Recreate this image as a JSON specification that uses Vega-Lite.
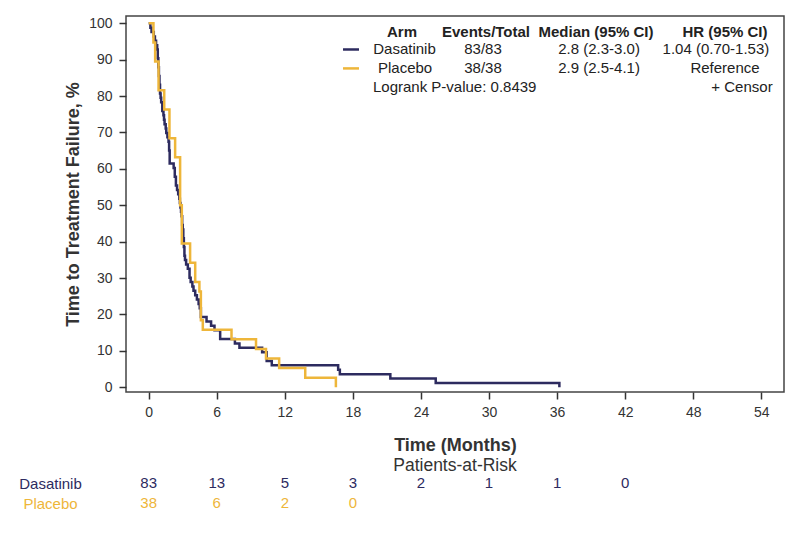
{
  "$schema": "https://vega.github.io/schema/vega-lite/v6.json",
  "padding": {"left": 18, "top": 15, "right": 10, "bottom": 5},
  "background": "white",
  "spacing": 1,
  "config": {"font": "Liberation Sans", "view": {"stroke": null}, "axis": {"labelOverlap": false}},
  "resolve": {"scale": {"x": "independent", "y": "independent"}},
  "datasets": {
    "km": [
      {"arm": "Dasatinib", "time": 0, "surv": 100},
      {"arm": "Dasatinib", "time": 0.15, "surv": 98.80},
      {"arm": "Dasatinib", "time": 0.25, "surv": 97.59},
      {"arm": "Dasatinib", "time": 0.45, "surv": 96.39},
      {"arm": "Dasatinib", "time": 0.55, "surv": 95.18},
      {"arm": "Dasatinib", "time": 0.65, "surv": 93.98},
      {"arm": "Dasatinib", "time": 0.75, "surv": 92.77},
      {"arm": "Dasatinib", "time": 0.8, "surv": 90.36},
      {"arm": "Dasatinib", "time": 0.85, "surv": 87.95},
      {"arm": "Dasatinib", "time": 0.9, "surv": 85.54},
      {"arm": "Dasatinib", "time": 0.95, "surv": 83.13},
      {"arm": "Dasatinib", "time": 1.0, "surv": 80.72},
      {"arm": "Dasatinib", "time": 1.05, "surv": 79.52},
      {"arm": "Dasatinib", "time": 1.1, "surv": 78.31},
      {"arm": "Dasatinib", "time": 1.2, "surv": 75.90},
      {"arm": "Dasatinib", "time": 1.3, "surv": 74.70},
      {"arm": "Dasatinib", "time": 1.35, "surv": 73.49},
      {"arm": "Dasatinib", "time": 1.4, "surv": 72.29},
      {"arm": "Dasatinib", "time": 1.5, "surv": 71.08},
      {"arm": "Dasatinib", "time": 1.55, "surv": 69.88},
      {"arm": "Dasatinib", "time": 1.65, "surv": 68.67},
      {"arm": "Dasatinib", "time": 1.75, "surv": 67.47},
      {"arm": "Dasatinib", "time": 1.8, "surv": 65.06},
      {"arm": "Dasatinib", "time": 1.85, "surv": 61.45},
      {"arm": "Dasatinib", "time": 2.2, "surv": 60.24},
      {"arm": "Dasatinib", "time": 2.3, "surv": 57.83},
      {"arm": "Dasatinib", "time": 2.4, "surv": 55.42},
      {"arm": "Dasatinib", "time": 2.5, "surv": 54.22},
      {"arm": "Dasatinib", "time": 2.6, "surv": 53.01},
      {"arm": "Dasatinib", "time": 2.7, "surv": 51.81},
      {"arm": "Dasatinib", "time": 2.75, "surv": 50.60},
      {"arm": "Dasatinib", "time": 2.8, "surv": 49.40},
      {"arm": "Dasatinib", "time": 2.85, "surv": 48.19},
      {"arm": "Dasatinib", "time": 2.9, "surv": 46.99},
      {"arm": "Dasatinib", "time": 2.95, "surv": 44.58},
      {"arm": "Dasatinib", "time": 3.0, "surv": 43.37},
      {"arm": "Dasatinib", "time": 3.05, "surv": 40.96},
      {"arm": "Dasatinib", "time": 3.1, "surv": 38.55},
      {"arm": "Dasatinib", "time": 3.15, "surv": 36.14},
      {"arm": "Dasatinib", "time": 3.2, "surv": 34.94},
      {"arm": "Dasatinib", "time": 3.3, "surv": 33.73},
      {"arm": "Dasatinib", "time": 3.45, "surv": 32.53},
      {"arm": "Dasatinib", "time": 3.6, "surv": 30.12},
      {"arm": "Dasatinib", "time": 3.7, "surv": 28.92},
      {"arm": "Dasatinib", "time": 3.85, "surv": 27.71},
      {"arm": "Dasatinib", "time": 3.95, "surv": 26.51},
      {"arm": "Dasatinib", "time": 4.1, "surv": 25.30},
      {"arm": "Dasatinib", "time": 4.25, "surv": 24.10},
      {"arm": "Dasatinib", "time": 4.4, "surv": 22.89},
      {"arm": "Dasatinib", "time": 4.5, "surv": 21.69},
      {"arm": "Dasatinib", "time": 4.6, "surv": 19.28},
      {"arm": "Dasatinib", "time": 5.1, "surv": 18.07},
      {"arm": "Dasatinib", "time": 5.5, "surv": 16.87},
      {"arm": "Dasatinib", "time": 5.8, "surv": 15.66},
      {"arm": "Dasatinib", "time": 6.3, "surv": 13.25},
      {"arm": "Dasatinib", "time": 7.6, "surv": 12.05},
      {"arm": "Dasatinib", "time": 8.0, "surv": 10.84},
      {"arm": "Dasatinib", "time": 10.0, "surv": 9.64},
      {"arm": "Dasatinib", "time": 10.4, "surv": 7.23},
      {"arm": "Dasatinib", "time": 10.85, "surv": 6.02},
      {"arm": "Dasatinib", "time": 16.7, "surv": 4.82},
      {"arm": "Dasatinib", "time": 16.85, "surv": 3.61},
      {"arm": "Dasatinib", "time": 21.3, "surv": 2.41},
      {"arm": "Dasatinib", "time": 25.3, "surv": 1.20},
      {"arm": "Dasatinib", "time": 36.2, "surv": 0},
      {"arm": "Placebo", "time": 0, "surv": 100},
      {"arm": "Placebo", "time": 0.42, "surv": 94.74},
      {"arm": "Placebo", "time": 0.57, "surv": 89.47},
      {"arm": "Placebo", "time": 0.87, "surv": 81.58},
      {"arm": "Placebo", "time": 1.37, "surv": 76.32},
      {"arm": "Placebo", "time": 1.83, "surv": 68.42},
      {"arm": "Placebo", "time": 2.33, "surv": 63.16},
      {"arm": "Placebo", "time": 2.77, "surv": 50.00},
      {"arm": "Placebo", "time": 2.92, "surv": 39.47},
      {"arm": "Placebo", "time": 3.65, "surv": 34.21},
      {"arm": "Placebo", "time": 4.1, "surv": 28.95},
      {"arm": "Placebo", "time": 4.47, "surv": 26.32},
      {"arm": "Placebo", "time": 4.6, "surv": 18.42},
      {"arm": "Placebo", "time": 4.77, "surv": 15.79},
      {"arm": "Placebo", "time": 7.3, "surv": 13.16},
      {"arm": "Placebo", "time": 9.46, "surv": 10.53},
      {"arm": "Placebo", "time": 10.34, "surv": 7.89},
      {"arm": "Placebo", "time": 11.5, "surv": 5.26},
      {"arm": "Placebo", "time": 13.8, "surv": 2.63},
      {"arm": "Placebo", "time": 16.5, "surv": 0}
    ],
    "risk": [
      {"arm": "Dasatinib", "time": 0, "n": 83},
      {"arm": "Dasatinib", "time": 6, "n": 13},
      {"arm": "Dasatinib", "time": 12, "n": 5},
      {"arm": "Dasatinib", "time": 18, "n": 3},
      {"arm": "Dasatinib", "time": 24, "n": 2},
      {"arm": "Dasatinib", "time": 30, "n": 1},
      {"arm": "Dasatinib", "time": 36, "n": 1},
      {"arm": "Dasatinib", "time": 42, "n": 0},
      {"arm": "Placebo", "time": 0, "n": 38},
      {"arm": "Placebo", "time": 6, "n": 6},
      {"arm": "Placebo", "time": 12, "n": 2},
      {"arm": "Placebo", "time": 18, "n": 0}
    ]
  },
  "vconcat": [
    {
      "width": 658,
      "height": 376,
      "view": {"stroke": "#444", "strokeWidth": 1.5},
      "layer": [
        {
          "data": {"values": [{}]},
          "mark": {"type": "rule", "strokeWidth": 2.5, "color": "#2d2b5f"},
          "encoding": {"x": {"datum": 17.13}, "x2": {"datum": 18.54}, "y": {"datum": 92.8}}
        },
        {
          "data": {"values": [{}]},
          "mark": {"type": "rule", "strokeWidth": 2.5, "color": "#eeb63a"},
          "encoding": {"x": {"datum": 17.13}, "x2": {"datum": 18.54}, "y": {"datum": 87.6}}
        },
        {
          "data": {"values": [{}]},
          "mark": {"type": "text", "fontSize": 15, "fontWeight": "bold", "color": "#222", "align": "center", "baseline": "middle"},
          "encoding": {"x": {"datum": 22.33}, "y": {"datum": 97.7}, "text": {"value": "Arm"}}
        },
        {
          "data": {"values": [{}]},
          "mark": {"type": "text", "fontSize": 15, "fontWeight": "bold", "color": "#222", "align": "center", "baseline": "middle"},
          "encoding": {"x": {"datum": 29.73}, "y": {"datum": 97.7}, "text": {"value": "Events/Total"}}
        },
        {
          "data": {"values": [{}]},
          "mark": {"type": "text", "fontSize": 15, "fontWeight": "bold", "color": "#222", "align": "center", "baseline": "middle"},
          "encoding": {"x": {"datum": 39.43}, "y": {"datum": 97.7}, "text": {"value": "Median (95% CI)"}}
        },
        {
          "data": {"values": [{}]},
          "mark": {"type": "text", "fontSize": 15, "fontWeight": "bold", "color": "#222", "align": "center", "baseline": "middle"},
          "encoding": {"x": {"datum": 50.8}, "y": {"datum": 97.7}, "text": {"value": "HR (95% CI)"}}
        },
        {
          "data": {"values": [{}]},
          "mark": {"type": "text", "fontSize": 15, "color": "#222", "align": "center", "baseline": "middle"},
          "encoding": {"x": {"datum": 22.55}, "y": {"datum": 92.8}, "text": {"value": "Dasatinib"}}
        },
        {
          "data": {"values": [{}]},
          "mark": {"type": "text", "fontSize": 15, "color": "#222", "align": "center", "baseline": "middle"},
          "encoding": {"x": {"datum": 22.6}, "y": {"datum": 87.6}, "text": {"value": "Placebo"}}
        },
        {
          "data": {"values": [{}]},
          "mark": {"type": "text", "fontSize": 15, "color": "#222", "align": "center", "baseline": "middle"},
          "encoding": {"x": {"datum": 29.47}, "y": {"datum": 92.8}, "text": {"value": "83/83"}}
        },
        {
          "data": {"values": [{}]},
          "mark": {"type": "text", "fontSize": 15, "color": "#222", "align": "center", "baseline": "middle"},
          "encoding": {"x": {"datum": 29.47}, "y": {"datum": 87.6}, "text": {"value": "38/38"}}
        },
        {
          "data": {"values": [{}]},
          "mark": {"type": "text", "fontSize": 15, "color": "#222", "align": "center", "baseline": "middle"},
          "encoding": {"x": {"datum": 39.7}, "y": {"datum": 92.8}, "text": {"value": "2.8 (2.3-3.0)"}}
        },
        {
          "data": {"values": [{}]},
          "mark": {"type": "text", "fontSize": 15, "color": "#222", "align": "center", "baseline": "middle"},
          "encoding": {"x": {"datum": 39.7}, "y": {"datum": 87.6}, "text": {"value": "2.9 (2.5-4.1)"}}
        },
        {
          "data": {"values": [{}]},
          "mark": {"type": "text", "fontSize": 15, "color": "#222", "align": "center", "baseline": "middle"},
          "encoding": {"x": {"datum": 50.0}, "y": {"datum": 92.8}, "text": {"value": "1.04 (0.70-1.53)"}}
        },
        {
          "data": {"values": [{}]},
          "mark": {"type": "text", "fontSize": 15, "color": "#222", "align": "center", "baseline": "middle"},
          "encoding": {"x": {"datum": 50.8}, "y": {"datum": 87.6}, "text": {"value": "Reference"}}
        },
        {
          "data": {"values": [{}]},
          "mark": {"type": "text", "fontSize": 15, "color": "#222", "align": "left", "baseline": "middle"},
          "encoding": {"x": {"datum": 19.77}, "y": {"datum": 82.58}, "text": {"value": "Logrank P-value: 0.8439"}}
        },
        {
          "data": {"values": [{}]},
          "mark": {"type": "text", "fontSize": 15, "color": "#222", "align": "right", "baseline": "middle"},
          "encoding": {"x": {"datum": 55.0}, "y": {"datum": 82.58}, "text": {"value": "+  Censor"}}
        },
        {
          "data": {"name": "km"},
          "mark": {"type": "line", "interpolate": "step-after", "strokeWidth": 2.5},
          "encoding": {
            "x": {
              "field": "time", "type": "quantitative",
              "scale": {"domain": [-2, 56], "nice": false, "zero": false},
              "axis": {
                "values": [0, 6, 12, 18, 24, 30, 36, 42, 48, 54],
                "title": "Time (Months)", "titleFontSize": 18, "titleFontWeight": "bold", "titlePadding": 17,
                "titleColor": "#333", "labelColor": "#333", "labelFontSize": 14, "labelPadding": 6,
                "tickSize": 7, "tickWidth": 1.5, "tickColor": "#333", "domain": false, "grid": false,
                "labelFlush": false, "labelOverlap": false
              }
            },
            "y": {
              "field": "surv", "type": "quantitative",
              "scale": {"domain": [-1.3, 102], "nice": false, "zero": false},
              "axis": {
                "values": [0, 10, 20, 30, 40, 50, 60, 70, 80, 90, 100],
                "tickCount": 11,
                "title": "Time to Treatment Failure, %", "titleFontSize": 18, "titleFontWeight": "bold", "titlePadding": 6,
                "titleColor": "#333", "labelColor": "#333", "labelFontSize": 14, "labelPadding": 7,
                "tickSize": 7, "tickWidth": 1.5, "tickColor": "#333", "domain": false, "grid": false,
                "labelOverlap": false, "labelFlush": false, "labelSeparation": 0
              }
            },
            "color": {
              "field": "arm", "type": "nominal",
              "scale": {"domain": ["Dasatinib", "Placebo"], "range": ["#2d2b5f", "#eeb63a"]},
              "legend": null
            }
          }
        }
      ]
    },
    {
      "width": 658,
      "height": 40,
      "data": {"name": "risk"},
      "title": {"text": "Patients-at-Risk", "fontSize": 17.5, "fontWeight": "normal", "anchor": "middle", "frame": "group", "offset": -1, "color": "#333"},
      "mark": {"type": "text", "fontSize": 15, "align": "center", "baseline": "middle"},
      "encoding": {
        "x": {"field": "time", "type": "quantitative", "scale": {"domain": [-2, 56], "nice": false, "zero": false}, "axis": null},
        "y": {
          "field": "arm", "type": "nominal", "sort": ["Dasatinib", "Placebo"],
          "axis": {
            "title": null, "ticks": false, "tickSize": 0, "domain": false, "grid": false,
            "labelPadding": 76, "labelAlign": "center", "labelFontSize": 15,
            "labelColor": {"condition": {"test": "datum.value === 'Placebo'", "value": "#eeb63a"}, "value": "#2d2b5f"}
          }
        },
        "text": {"field": "n", "type": "quantitative"},
        "color": {
          "field": "arm", "type": "nominal",
          "scale": {"domain": ["Dasatinib", "Placebo"], "range": ["#2d2b5f", "#eeb63a"]},
          "legend": null
        }
      }
    }
  ]
}
